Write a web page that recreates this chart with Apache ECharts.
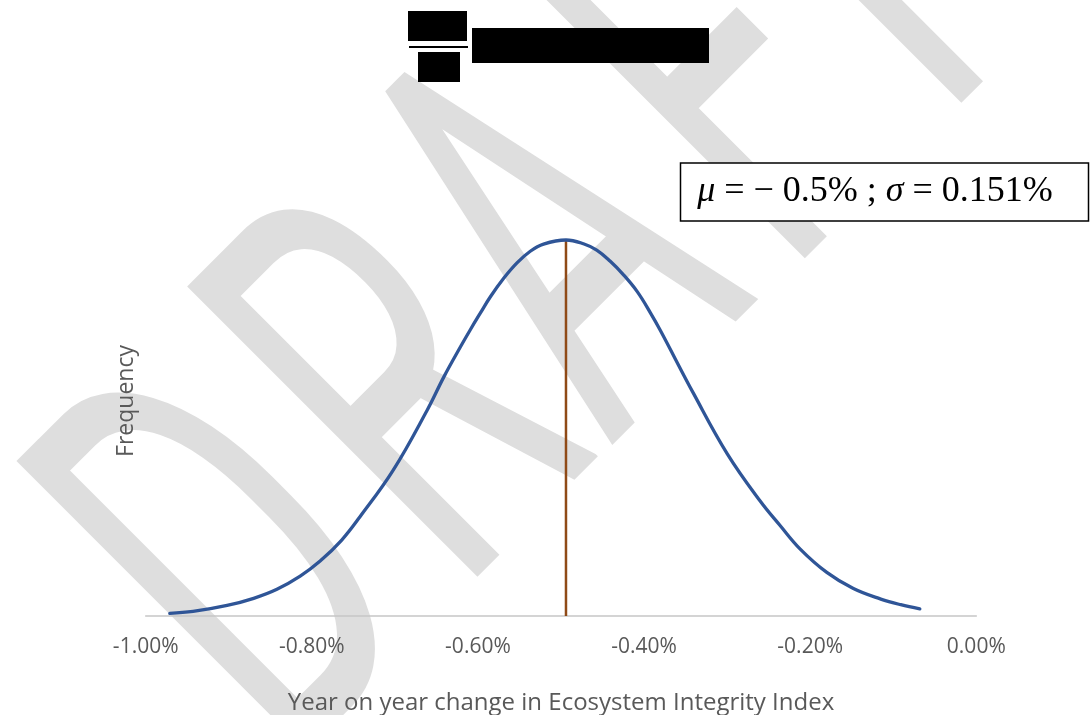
<!DOCTYPE html>
<html>
<head>
<meta charset="utf-8">
<script src="https://cdn.jsdelivr.net/npm/echarts@6/dist/echarts.min.js"></script>
<style>
  html, body { margin: 0; padding: 0; background: #ffffff; overflow: hidden; }
  #chart { width: 1091px; height: 715px; }
</style>
</head>
<body>
<div id="chart"></div>
<script>
// Year-on-year change (%) and relative frequency
var xValues = [-0.971, -0.943, -0.902, -0.870, -0.842, -0.814, -0.790, -0.764, -0.742, -0.702,
               -0.661, -0.641, -0.621, -0.609, -0.597, -0.585, -0.569, -0.553, -0.537, -0.521,
               -0.494, -0.473, -0.457, -0.441, -0.425, -0.408, -0.392, -0.380, -0.340, -0.300,
               -0.260, -0.236, -0.212, -0.180, -0.148, -0.115, -0.091, -0.068];
var freqValues = [0.007, 0.012, 0.028, 0.047, 0.071, 0.106, 0.146, 0.202, 0.264, 0.388,
                  0.548, 0.636, 0.716, 0.762, 0.806, 0.849, 0.898, 0.939, 0.970, 0.989,
                  1.000, 0.990, 0.973, 0.944, 0.908, 0.862, 0.805, 0.758, 0.590, 0.432,
                  0.305, 0.240, 0.178, 0.116, 0.073, 0.045, 0.030, 0.019];
var meanValue = -0.494;
var meanLineTop = 1.000;
var xTickLabels = ['-1.00%', '-0.80%', '-0.60%', '-0.40%', '-0.20%', '0.00%'];
var xMin = -1.0, xMax = 0.0, xInterval = 0.2;
var statsText = ['μ', ' = − 0.5% ; ', 'σ', ' = 0.151%'];
var xAxisTitle = 'Year on year change in Ecosystem Integrity Index';
var yAxisTitle = 'Frequency';
var watermarkText = 'DRAFT';

var curveData = xValues.map(function (x, i) { return [x, freqValues[i]]; });
var meanData = [[meanValue, 0], [meanValue, meanLineTop]];

// watermark letter centres (layout only)
var wmCentres = [[262, 592], [428, 422], [583, 270], [748, 111], [870, -10]];
var wmGraphics = watermarkText.split('').map(function (ch, i) {
  return {
    type: 'text',
    z: -10,
    silent: true,
    x: wmCentres[i][0], y: wmCentres[i][1],
    rotation: 45 * Math.PI / 180,
    scaleX: 1, scaleY: 1.75,
    style: {
      text: ch, x: 0, y: 0,
      fill: '#dedede',
      font: '400 330px Roboto',
      align: 'center',
      verticalAlign: 'middle'
    }
  };
});

var chart = echarts.init(document.getElementById('chart'), null, { renderer: 'canvas' });

var option = {
  backgroundColor: '#ffffff',
  animation: false,
  grid: {
    left: 145.7, width: 830.6, top: 186, height: 430,
    containLabel: false, outerBoundsMode: 'none'
  },
  xAxis: {
    type: 'value',
    min: xMin, max: xMax, interval: xInterval,
    axisLine: { show: true, lineStyle: { color: '#c6c6c6', width: 1.5 } },
    axisTick: { show: false },
    splitLine: { show: false },
    axisLabel: {
      color: '#595959', fontFamily: 'Open Sans', fontSize: 21, margin: 21,
      formatter: function (v) {
        var idx = Math.round((v - xMin) / xInterval);
        return xTickLabels[idx] !== undefined ? xTickLabels[idx] : '';
      }
    },
    name: xAxisTitle,
    nameLocation: 'middle',
    nameGap: 75,
    nameTextStyle: { color: '#595959', fontFamily: 'Open Sans', fontSize: 24 }
  },
  yAxis: {
    type: 'value',
    min: 0, max: 1.1436,
    axisLine: { show: false },
    axisTick: { show: false },
    axisLabel: { show: false },
    splitLine: { show: false },
    name: yAxisTitle,
    nameLocation: 'middle',
    nameGap: 8,
    nameRotate: 90,
    nameTextStyle: { color: '#595959', fontFamily: 'Open Sans', fontSize: 23 }
  },
  series: [
    {
      type: 'line',
      data: curveData,
      smooth: 0.4,
      showSymbol: false,
      symbol: 'none',
      clip: false,
      lineStyle: { color: '#2f5597', width: 3.3, cap: 'round' },
      z: 3
    },
    {
      type: 'line',
      data: meanData,
      showSymbol: false,
      symbol: 'none',
      clip: false,
      lineStyle: { color: '#8f4a17', width: 2.5 },
      z: 2
    }
  ],
  graphic: wmGraphics.concat([
    { type: 'rect', z: 100, shape: { x: 408, y: 11, width: 59, height: 30 }, style: { fill: '#000000' } },
    { type: 'rect', z: 100, shape: { x: 409, y: 46, width: 59, height: 2 }, style: { fill: '#000000' } },
    { type: 'rect', z: 100, shape: { x: 418, y: 52, width: 42, height: 30 }, style: { fill: '#000000' } },
    { type: 'rect', z: 100, shape: { x: 472, y: 28, width: 237, height: 35 }, style: { fill: '#000000' } },
    {
      type: 'rect', z: 100,
      shape: { x: 680.5, y: 163, width: 408, height: 58 },
      style: { fill: '#ffffff', stroke: '#000000', lineWidth: 1.5 }
    },
    {
      type: 'text', z: 101,
      x: 875, y: 192,
      style: {
        text: '{i|' + statsText[0] + '}{n|' + statsText[1] + '}{i|' + statsText[2] + '}{n|' + statsText[3] + '}',
        align: 'center',
        verticalAlign: 'middle',
        rich: {
          i: { fontFamily: 'Liberation Serif', fontStyle: 'italic', fontSize: 36, fill: '#000000' },
          n: { fontFamily: 'Liberation Serif', fontSize: 36, fill: '#000000' }
        }
      }
    }
  ])
};

chart.setOption(option);
</script>
</body>
</html>
